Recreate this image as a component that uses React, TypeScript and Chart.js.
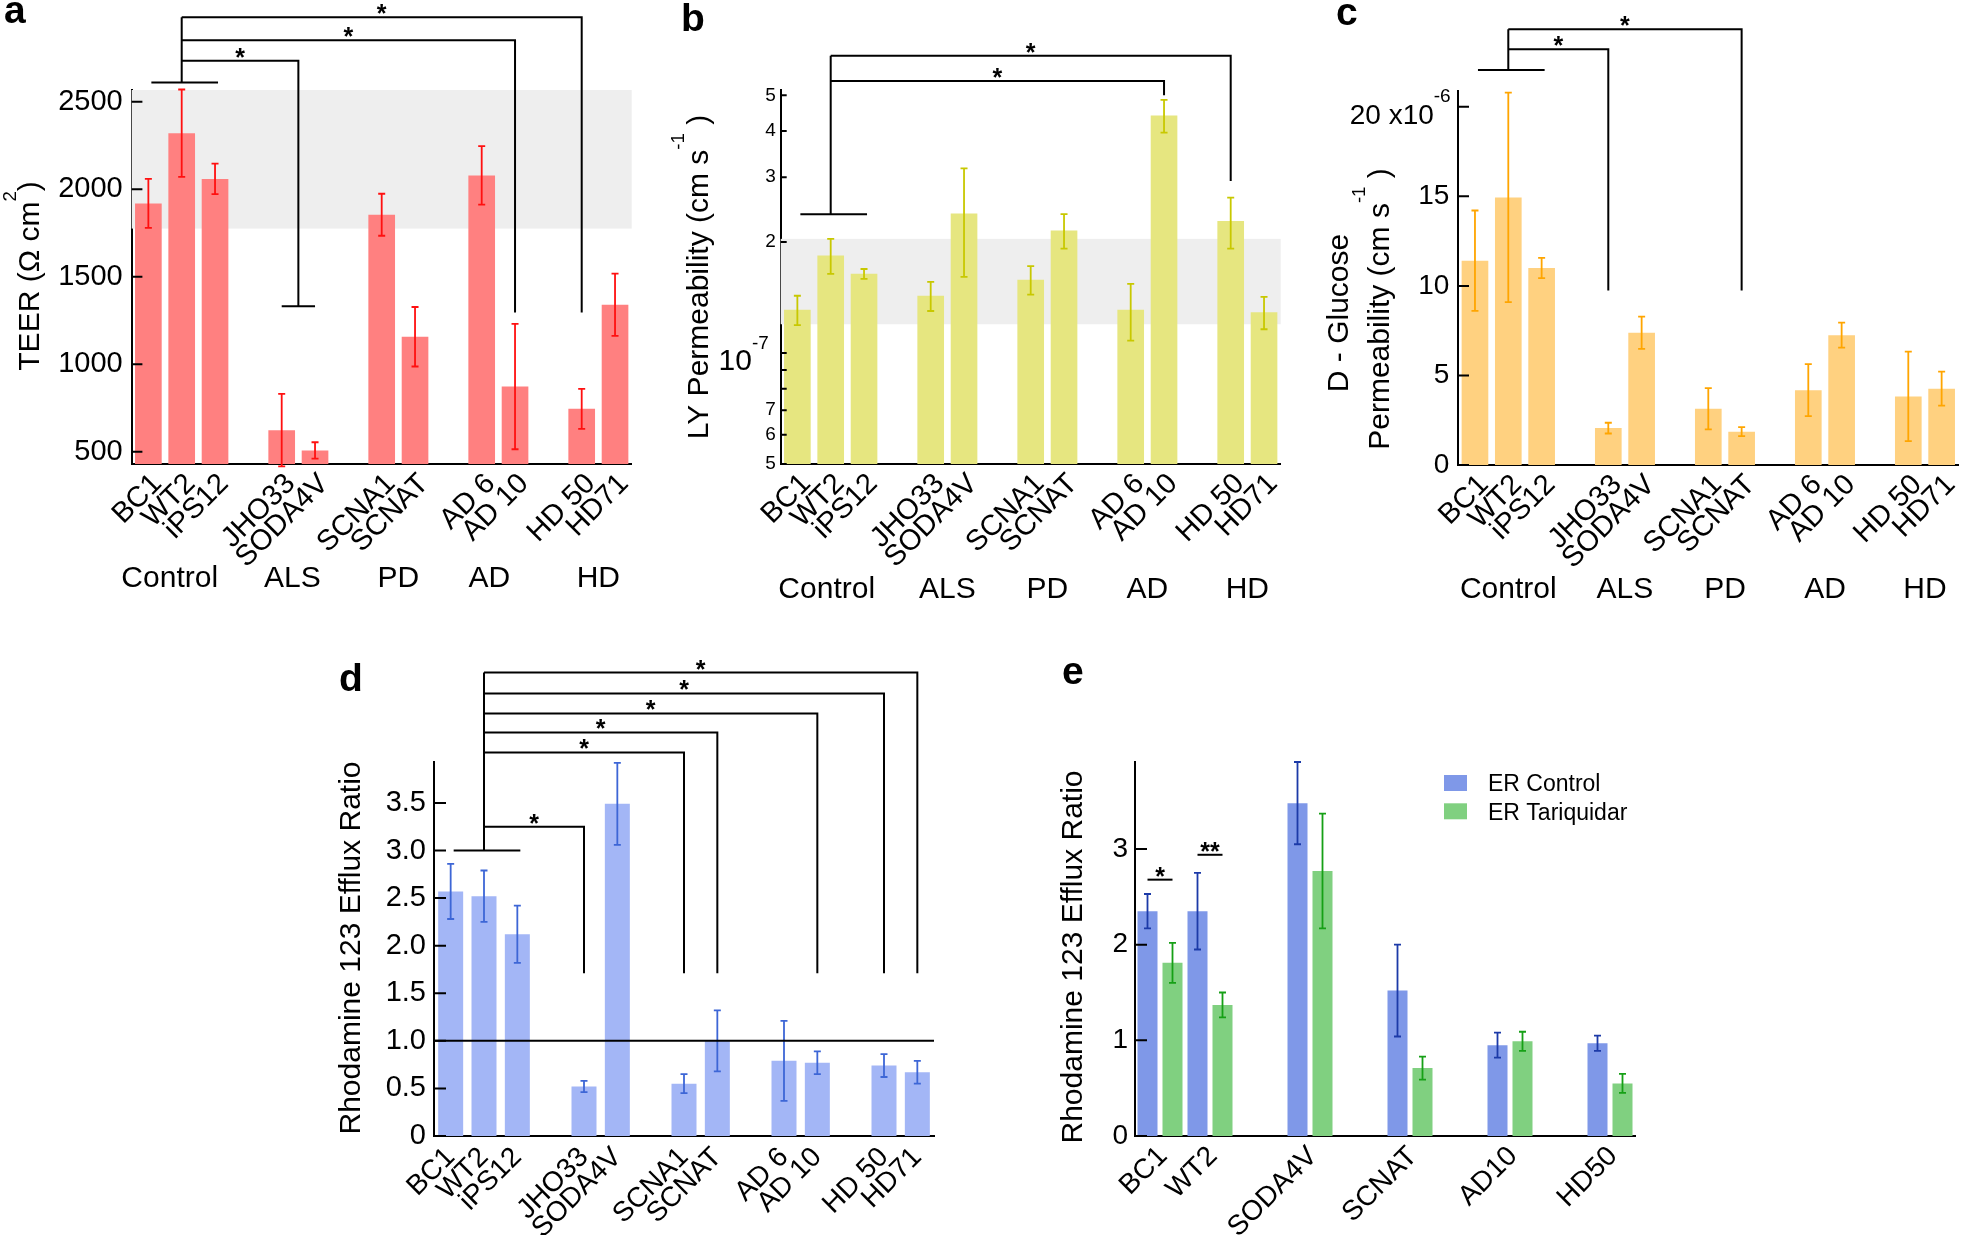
import React, { useEffect, useRef } from 'react';
import { Chart, registerables } from 'chart.js';

Chart.register(...registerables);

const PAGE_W = 1961;
const PAGE_H = 1235;
const FONT = '"Liberation Sans", Arial, Helvetica, sans-serif';
const fontStr = (size: number, weight = 'normal') => `${weight} ${size}px ${FONT}`;

// ---------- shared categories (panels a–d) ----------
const CELL_LINES = ['BC1', 'WT2', 'iPS12', '', 'JHO33', 'SODA4V', '', 'SCNA1', 'SCNAT', '', 'AD 6', 'AD 10', '', 'HD 50', 'HD71'];
const GROUP_NAMES = ['Control', 'ALS', 'PD', 'AD', 'HD'];
const GROUP_MEMBERS = [['BC1', 'WT2', 'iPS12'], ['JHO33', 'SODA4V'], ['SCNA1', 'SCNAT'], ['AD 6', 'AD 10'], ['HD 50', 'HD71']];

// ---------- a: TEER ----------
const TEER_VALUES = [1919, 2320, 2059, null, 623, 507, null, 1854, 1157, null, 2079, 872, null, 745, 1340];
const TEER_ERRORS = [140, 250, 87, null, 207, 47, null, 120, 170, null, 167, 358, null, 114, 178];
const TEER_TICKS = [500, 1000, 1500, 2000, 2500];
const TEER_BAND = [1775, 2567];
const TEER_CONTROL_Y = 2610;
const TEER_BRACKETS = [
  { to: ['JHO33', 'SODA4V'], top: 2734, end: 1331 },
  { to: ['AD 10'], top: 2852, end: 1295 },
  { to: ['HD 50'], top: 2983, end: 1295 },
];

// ---------- b: Lucifer yellow permeability (cm/s) ----------
const LY_VALUES = [1.31e-7, 1.84e-7, 1.64e-7, null, 1.43e-7, 2.39e-7, null, 1.58e-7, 2.15e-7, null, 1.31e-7, 4.41e-7, null, 2.28e-7, 1.29e-7];
const LY_ERRORS = [0.12e-7, 0.2e-7, 0.05e-7, null, 0.13e-7, 0.78e-7, null, 0.14e-7, 0.23e-7, null, 0.23e-7, 0.45e-7, null, 0.36e-7, 0.13e-7];
const LY_TICKS = [5e-8, 6e-8, 7e-8, 8e-8, 9e-8, 1e-7, 2e-7, 3e-7, 4e-7, 5e-7];
const LY_TICK_LABELS = ['5', '6', '7', '', '', '', '2', '3', '4', '5'];
const LY_BAND = [1.197e-7, 2.04e-7];
const LY_CONTROL_Y = 2.38e-7;
const LY_BRACKETS = [
  { to: ['AD 10'], top: 5.47e-7, end: 5.0e-7 },
  { to: ['HD 50'], top: 6.4e-7, end: 2.93e-7 },
];

// ---------- c: D-glucose permeability (x1e-6 cm/s) ----------
const GLU_VALUES = [11.41, 14.94, 11.0, null, 2.06, 7.38, null, 3.14, 1.86, null, 4.18, 7.25, null, 3.83, 4.26];
const GLU_ERRORS = [2.8, 5.85, 0.57, null, 0.3, 0.9, null, 1.15, 0.25, null, 1.45, 0.7, null, 2.5, 0.95];
const GLU_TICKS = [0, 5, 10, 15, 20];
const GLU_CONTROL_Y = 22.05;
const GLU_BRACKETS = [
  { to: ['JHO33'], top: 23.22, end: 9.74 },
  { to: ['SCNAT'], top: 24.33, end: 9.74 },
];

// ---------- d: Rhodamine 123 efflux ratio ----------
const RHO_VALUES = [2.57, 2.52, 2.12, null, 0.52, 3.49, null, 0.55, 1.0, null, 0.79, 0.77, null, 0.74, 0.67];
const RHO_ERRORS = [0.29, 0.27, 0.3, null, 0.06, 0.43, null, 0.1, 0.32, null, 0.42, 0.12, null, 0.12, 0.12];
const RHO_TICKS = [0, 0.5, 1.0, 1.5, 2.0, 2.5, 3.0, 3.5];
const RHO_REFERENCE = 1.0;
const RHO_CONTROL_Y = 3.0;
const RHO_BRACKETS = [
  { to: ['JHO33'], top: 3.25, end: 1.71 },
  { to: ['SCNA1'], top: 4.03, end: 1.71 },
  { to: ['SCNAT'], top: 4.24, end: 1.71 },
  { to: ['AD 10'], top: 4.44, end: 1.71 },
  { to: ['HD 50'], top: 4.65, end: 1.71 },
  { to: ['HD71'], top: 4.87, end: 1.71 },
];

// ---------- e: efflux ratio with / without tariquidar ----------
const ER_LINES = ['BC1', 'WT2', '', 'SODA4V', '', 'SCNAT', '', 'AD10', '', 'HD50'];
const ER_CONTROL = [2.35, 2.35, null, 3.48, null, 1.52, null, 0.95, null, 0.97];
const ER_CONTROL_ERR = [0.18, 0.4, null, 0.43, null, 0.48, null, 0.13, null, 0.08];
const ER_TARIQ = [1.81, 1.37, null, 2.77, null, 0.71, null, 0.99, null, 0.55];
const ER_TARIQ_ERR = [0.21, 0.13, null, 0.6, null, 0.12, null, 0.1, null, 0.1];
const ER_TICKS = [0, 1, 2, 3];
const ER_PAIRS = [
  { at: 'BC1', y: 2.68, mark: '*' },
  { at: 'WT2', y: 2.94, mark: '**' },
];

type Seg = { t: string; sup?: boolean };

function richWidth(ctx: any, segs: Seg[], size: number, supScale: number) {
  let w = 0;
  for (const s of segs) {
    ctx.font = fontStr(s.sup ? size * supScale : size);
    w += ctx.measureText(s.t).width;
  }
  return w;
}

// draws text with superscripts; (cx, cy) = centre of the capitals line
function drawRich(ctx: any, segs: Seg[], size: number, cx: number, cy: number, align: string, rotation: number, supScale = 0.63, supRise = 0.72) {
  ctx.save();
  ctx.translate(cx, cy);
  ctx.rotate(rotation);
  const w = richWidth(ctx, segs, size, supScale);
  let x = align === 'center' ? -w / 2 : align === 'right' ? -w : 0;
  const base = 0.36 * size;
  ctx.textAlign = 'left';
  ctx.textBaseline = 'alphabetic';
  ctx.fillStyle = '#000';
  for (const s of segs) {
    const sz = s.sup ? size * supScale : size;
    ctx.font = fontStr(sz);
    ctx.fillText(s.t, x, s.sup ? base - supRise * size : base);
    x += ctx.measureText(s.t).width;
  }
  ctx.restore();
}

function panelPlugin(spec: any) {
  return {
    id: 'panel_' + spec.letter,
    beforeDatasetsDraw(chart: any) {
      const { ctx, chartArea } = chart;
      const ys = chart.scales.y;
      if (spec.band) {
        const y1 = ys.getPixelForValue(spec.band[1]);
        const y2 = ys.getPixelForValue(spec.band[0]);
        ctx.save();
        ctx.fillStyle = '#eeeeee';
        ctx.fillRect(chartArea.left, y1, chartArea.right - chartArea.left, y2 - y1);
        ctx.restore();
      }
    },
    afterDatasetsDraw(chart: any) {
      const { ctx } = chart;
      const ys = chart.scales.y;
      ctx.save();
      spec.datasets.forEach((d: any, di: number) => {
        const meta = chart.getDatasetMeta(di);
        ctx.strokeStyle = d.errColor;
        ctx.lineWidth = 1.8;
        meta.data.forEach((el: any, i: number) => {
          const v = d.data[i];
          const e = d.errors[i];
          if (v == null || e == null) return;
          const x = el.x;
          const yt = ys.getPixelForValue(v + e);
          const yb = ys.getPixelForValue(v - e);
          ctx.beginPath();
          ctx.moveTo(x, yt);
          ctx.lineTo(x, yb);
          ctx.moveTo(x - 3.5, yt);
          ctx.lineTo(x + 3.5, yt);
          ctx.moveTo(x - 3.5, yb);
          ctx.lineTo(x + 3.5, yb);
          ctx.stroke();
        });
      });
      ctx.restore();
    },
    afterDraw(chart: any) {
      const { ctx, chartArea } = chart;
      const xs = chart.scales.x;
      const ys = chart.scales.y;
      const px = (name: string) => xs.getPixelForValue(spec.labels.indexOf(name));
      ctx.save();
      ctx.strokeStyle = '#000';
      ctx.fillStyle = '#000';
      ctx.lineWidth = 2;

      // inward tick marks
      ctx.beginPath();
      ys.ticks.forEach((t: any) => {
        const y = ys.getPixelForValue(t.value);
        ctx.moveTo(chartArea.left, y);
        ctx.lineTo(chartArea.left + spec.tickLen, y);
      });
      ctx.stroke();

      // reference line
      if (spec.refLine != null) {
        const y = ys.getPixelForValue(spec.refLine);
        ctx.beginPath();
        ctx.moveTo(chartArea.left, y);
        ctx.lineTo(chartArea.right, y);
        ctx.stroke();
      }

      // rich tick label (superscript)
      if (spec.richTick) {
        const r = spec.richTick;
        const y = ys.getPixelForValue(r.value);
        drawRich(ctx, r.segs, r.size, chartArea.left - r.gap, y + r.dy, 'right', 0, r.supScale, r.supRise);
      }

      const star = (text: string, x: number, y: number) => {
        ctx.font = fontStr(25, 'bold');
        ctx.textAlign = 'center';
        ctx.textBaseline = 'alphabetic';
        ctx.fillText(text, x, y + 5);
      };

      // significance brackets from control group
      if (spec.control) {
        const c = spec.control;
        const yc = ys.getPixelForValue(c.y);
        const xStem = px(c.stem);
        ctx.beginPath();
        ctx.moveTo(px(c.from) + 3, yc);
        ctx.lineTo(px(c.to) + 3, yc);
        const tops = spec.brackets.map((b: any) => ys.getPixelForValue(b.top));
        const yTop = Math.min(...tops);
        ctx.moveTo(xStem, yc);
        ctx.lineTo(xStem, yTop);
        ctx.stroke();
        spec.brackets.forEach((b: any) => {
          const xt = b.to.reduce((s: number, n: string) => s + px(n), 0) / b.to.length;
          const yt = ys.getPixelForValue(b.top);
          const ye = ys.getPixelForValue(b.end);
          ctx.beginPath();
          ctx.moveTo(xStem, yt);
          ctx.lineTo(xt, yt);
          ctx.lineTo(xt, ye);
          if (b.to.length > 1) {
            ctx.moveTo(px(b.to[0]), ye);
            ctx.lineTo(px(b.to[b.to.length - 1]), ye);
          }
          ctx.stroke();
          star('*', (xStem + xt) / 2, yt);
        });
      }

      // pairwise brackets (panel e)
      if (spec.pairs) {
        const m0 = chart.getDatasetMeta(0);
        const m1 = chart.getDatasetMeta(1);
        spec.pairs.forEach((p: any) => {
          const i = spec.labels.indexOf(p.at);
          const x0 = m0.data[i].x;
          const x1 = m1.data[i].x;
          const y = ys.getPixelForValue(p.y);
          ctx.beginPath();
          ctx.moveTo(x0, y);
          ctx.lineTo(x1, y);
          ctx.stroke();
          star(p.mark, (x0 + x1) / 2, y);
        });
      }

      // group labels under the axis
      if (spec.groups) {
        ctx.font = fontStr(30);
        ctx.textAlign = 'center';
        ctx.textBaseline = 'alphabetic';
        GROUP_NAMES.forEach((g, gi) => {
          const mem = GROUP_MEMBERS[gi];
          const x = mem.reduce((s, n) => s + px(n), 0) / mem.length;
          ctx.fillText(g, x + (spec.groups.shift?.[gi] ?? 0), spec.groups.baseline);
        });
      }

      // axis titles
      spec.titles.forEach((t: any) => {
        drawRich(ctx, t.segs, spec.titleSize, t.x, t.y, 'center', -Math.PI / 2, 0.62, 0.78);
      });

      // legend
      if (spec.legend) {
        const lg = spec.legend;
        spec.datasets.forEach((d: any, di: number) => {
          const y = lg.y + di * lg.gap;
          ctx.fillStyle = d.color;
          ctx.fillRect(lg.x, y, 23, 16);
          ctx.fillStyle = '#000';
          ctx.font = fontStr(lg.size);
          ctx.textAlign = 'left';
          ctx.textBaseline = 'alphabetic';
          ctx.fillText(d.label, lg.x + 44, y + 8 + 0.36 * lg.size);
        });
      }

      // panel letter
      ctx.fillStyle = '#000';
      ctx.font = fontStr(39, 'bold');
      ctx.textAlign = 'left';
      ctx.textBaseline = 'alphabetic';
      ctx.fillText(spec.letter, spec.letterX, spec.letterY);
      ctx.restore();
    },
  };
}

function makeConfig(spec: any) {
  const { L, R, T, B } = spec.area;
  const yAxisW = L; // axis box reaches the canvas edge so labels are never clipped
  const xAxisH = PAGE_H - B;
  return {
    type: 'bar',
    data: {
      labels: spec.labels,
      datasets: spec.datasets.map((d: any) => ({
        label: d.label,
        data: d.data,
        backgroundColor: d.color,
        borderWidth: 0,
        barPercentage: spec.barPct,
        categoryPercentage: 1.0,
      })),
    },
    options: {
      responsive: false,
      animation: false,
      devicePixelRatio: 1,
      events: [],
      layout: { padding: { left: 0, right: PAGE_W - R, top: T, bottom: 0 } },
      plugins: { legend: { display: false }, tooltip: { enabled: false } },
      scales: {
        x: {
          type: 'category',
          offset: true,
          z: 1,
          grid: { display: false, drawTicks: false },
          border: { display: true, color: '#000', width: 2 },
          ticks: {
            autoSkip: false,
            minRotation: 45,
            maxRotation: 45,
            color: '#000',
            font: { family: FONT, size: spec.xFont },
            padding: spec.xPad,
            labelOffset: spec.xOffset,
          },
          afterFit: (s: any) => {
            s.height = xAxisH;
            s.paddingLeft = 0;
            s.paddingRight = 0;
          },
        },
        y: {
          type: spec.yType,
          min: spec.yMin,
          max: spec.yMax,
          bounds: 'data',
          z: 1,
          grid: { display: false, drawTicks: false },
          border: { display: true, color: '#000', width: 2 },
          ticks: {
            autoSkip: false,
            color: '#000',
            font: { family: FONT, size: spec.yFont },
            padding: spec.yPad,
            callback: (v: any, i: number) => spec.yLabel(Number(v), i),
          },
          afterBuildTicks: (s: any) => {
            s.ticks = spec.yTicks.map((v: number) => ({ value: v }));
          },
          afterFit: (s: any) => {
            s.width = yAxisW;
            s.paddingTop = 0;
            s.paddingBottom = 0;
          },
        },
      },
    },
    plugins: [panelPlugin(spec)],
  };
}

const PANELS: any[] = [
  {
    letter: 'a', letterX: 4, letterY: 23,
    area: { L: 131.7, R: 631.7, T: 90, B: 464 },
    labels: CELL_LINES,
    datasets: [{ label: 'TEER', data: TEER_VALUES, errors: TEER_ERRORS, color: '#ff8080', errColor: '#ff1010' }],
    barPct: 0.8,
    yType: 'linear', yMin: 429.7, yMax: 2567,
    yTicks: TEER_TICKS, yLabel: (v: number) => String(v),
    yFont: 29, yPad: 9, tickLen: 10.7,
    xFont: 29, xOffset: 9, xPad: 3,
    band: TEER_BAND,
    control: { from: 'BC1', stem: 'WT2', to: 'iPS12', y: TEER_CONTROL_Y },
    brackets: TEER_BRACKETS,
    groups: { baseline: 587, shift: [-12, -6, 0, -9, 0] },
    titleSize: 30,
    titles: [{ segs: [{ t: 'TEER (\u03A9 cm' }, { t: '2', sup: true }, { t: ')' }], x: 28.6, y: 276 }],
  },
  {
    letter: 'b', letterX: 681, letterY: 31,
    area: { L: 780.7, R: 1280.7, T: 90, B: 464 },
    labels: CELL_LINES,
    datasets: [{ label: 'LY', data: LY_VALUES, errors: LY_ERRORS, color: '#e6e680', errColor: '#c8c800' }],
    barPct: 0.8,
    yType: 'logarithmic', yMin: 5e-8, yMax: 5.17e-7,
    yTicks: LY_TICKS, yLabel: (_v: number, i: number) => LY_TICK_LABELS[i] ?? '',
    yFont: 19, yPad: 5, tickLen: 6,
    richTick: { value: 1e-7, segs: [{ t: '10' }, { t: '-7', sup: true }], size: 30, gap: 12, dy: 6, supScale: 0.63, supRise: 0.68 },
    xFont: 29, xOffset: 9, xPad: 3,
    band: LY_BAND,
    control: { from: 'BC1', stem: 'WT2', to: 'iPS12', y: LY_CONTROL_Y },
    brackets: LY_BRACKETS,
    groups: { baseline: 598, shift: [-4, 0, 0, 0, 0] },
    titleSize: 30,
    titles: [{ segs: [{ t: 'LY Permeability (cm s' }, { t: '-1', sup: true }, { t: ' )' }], x: 697, y: 277 }],
  },
  {
    letter: 'c', letterX: 1336, letterY: 25,
    area: { L: 1458.3, R: 1958.3, T: 90.7, B: 465 },
    labels: CELL_LINES,
    datasets: [{ label: 'D-Glucose', data: GLU_VALUES, errors: GLU_ERRORS, color: '#ffd180', errColor: '#ffa500' }],
    barPct: 0.8,
    yType: 'linear', yMin: 0, yMax: 20.9,
    yTicks: GLU_TICKS, yLabel: (v: number) => (v === 20 ? '' : String(v)),
    yFont: 28, yPad: 9, tickLen: 10.7,
    richTick: { value: 20, segs: [{ t: '20 x10' }, { t: '-6', sup: true }], size: 28, gap: 7.6, dy: 7, supScale: 0.68, supRise: 0.77 },
    xFont: 29, xOffset: 9, xPad: 3,
    control: { from: 'BC1', stem: 'WT2', to: 'iPS12', y: GLU_CONTROL_Y },
    brackets: GLU_BRACKETS,
    groups: { baseline: 598 },
    titleSize: 30,
    titles: [
      { segs: [{ t: 'D - Glucose' }], x: 1337, y: 313 },
      { segs: [{ t: 'Permeability (cm s' }, { t: '-1', sup: true }, { t: ' )' }], x: 1378, y: 309 },
    ],
  },
  {
    letter: 'd', letterX: 339, letterY: 691,
    area: { L: 434, R: 934, T: 762, B: 1136 },
    labels: CELL_LINES,
    datasets: [{ label: 'Efflux', data: RHO_VALUES, errors: RHO_ERRORS, color: '#a3b6f6', errColor: '#3d66d6' }],
    barPct: 0.75,
    yType: 'linear', yMin: 0, yMax: 3.93,
    yTicks: RHO_TICKS, yLabel: (v: number) => (v === 0 ? '0' : v.toFixed(1)),
    yFont: 29, yPad: 8, tickLen: 12,
    xFont: 28, xOffset: 0, xPad: 5,
    refLine: RHO_REFERENCE,
    control: { from: 'BC1', stem: 'WT2', to: 'iPS12', y: RHO_CONTROL_Y },
    brackets: RHO_BRACKETS,
    titleSize: 30,
    titles: [{ segs: [{ t: 'Rhodamine 123 Efflux Ratio' }], x: 349.6, y: 948 }],
  },
  {
    letter: 'e', letterX: 1062, letterY: 684,
    area: { L: 1135, R: 1635, T: 762, B: 1136 },
    labels: ER_LINES,
    datasets: [
      { label: 'ER Control', data: ER_CONTROL, errors: ER_CONTROL_ERR, color: '#7f98e8', errColor: '#1c3aa8' },
      { label: 'ER Tariquidar', data: ER_TARIQ, errors: ER_TARIQ_ERR, color: '#80d080', errColor: '#16a016' },
    ],
    barPct: 0.8,
    yType: 'linear', yMin: 0, yMax: 3.91,
    yTicks: ER_TICKS, yLabel: (v: number) => String(v),
    yFont: 28, yPad: 7, tickLen: 12,
    xFont: 28, xOffset: 3, xPad: 4,
    pairs: ER_PAIRS,
    legend: { x: 1444, y: 775, gap: 28.3, size: 23 },
    titleSize: 30,
    titles: [{ segs: [{ t: 'Rhodamine 123 Efflux Ratio' }], x: 1071, y: 957 }],
  },
];

function Panel({ spec }: { spec: any }) {
  const ref = useRef<HTMLCanvasElement>(null);
  useEffect(() => {
    const chart = new Chart(ref.current as HTMLCanvasElement, makeConfig(spec) as any);
    return () => chart.destroy();
  }, [spec]);
  return (
    <canvas
      ref={ref}
      width={PAGE_W}
      height={PAGE_H}
      style={{ position: 'absolute', left: 0, top: 0, width: PAGE_W, height: PAGE_H }}
    />
  );
}

export default function App() {
  return (
    <div style={{ position: 'absolute', left: 0, top: 0, width: PAGE_W, height: PAGE_H, background: '#fff', overflow: 'hidden' }}>
      {PANELS.map((p) => (
        <Panel key={p.letter} spec={p} />
      ))}
    </div>
  );
}
